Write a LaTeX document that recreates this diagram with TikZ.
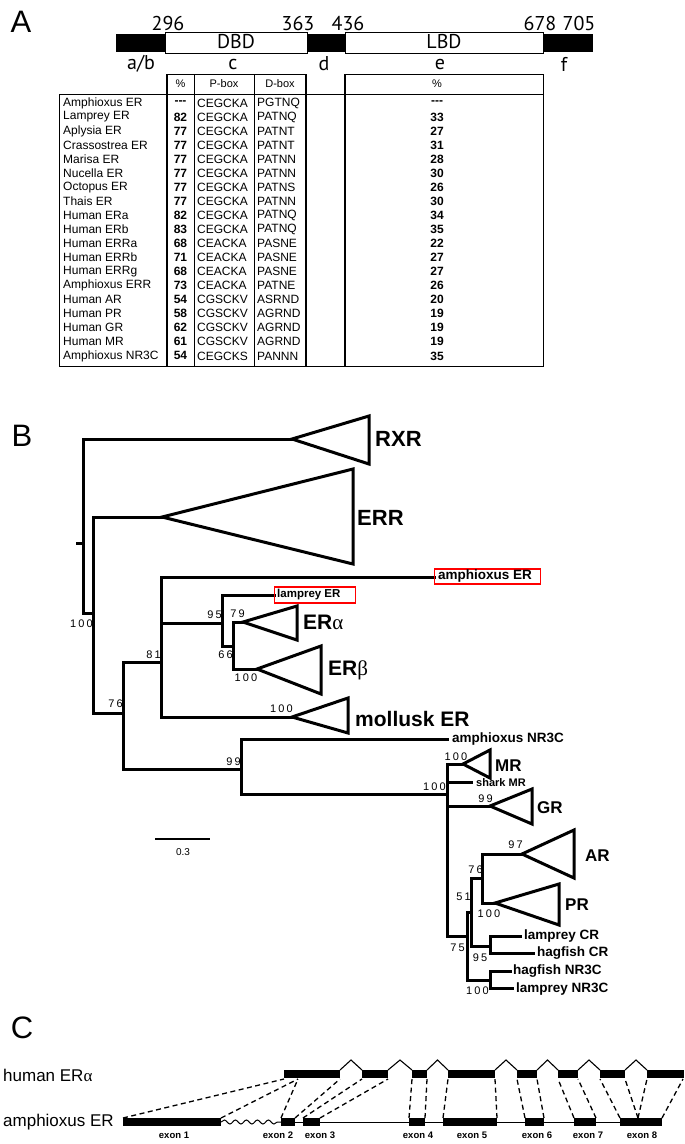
\documentclass[tikz,border=0pt]{standalone}
\usepackage{fontspec}
\setmainfont{Liberation Sans}
\newfontfamily\ptsans{PT Sans}
\newfontfamily\grk{Liberation Serif}
\newfontfamily\bootfont[LetterSpace=20]{Liberation Sans}
\usetikzlibrary{decorations.pathmorphing}
\newcommand\mydsh{{-}{-}{-}}
\begin{document}
\begin{tikzpicture}[x=1pt,y=-1pt,
 panel/.style={font=\fontsize{31}{33}\selectfont, inner sep=0pt},
 dom/.style={font=\ptsans\fontsize{20}{22}\selectfont, inner sep=0pt},
 cell/.style={font=\fontsize{12}{14}\selectfont, inner sep=0pt, anchor=west},
 bcell/.style={font=\bfseries\fontsize{12}{14}\selectfont, inner sep=0pt},
 hcell/.style={font=\fontsize{11}{13}\selectfont, inner sep=0pt},
 tline/.style={line width=0.9pt},
 Tline/.style={line width=2.5pt},
 br/.style={line width=3pt, line cap=rect},
 tri/.style={line width=3pt, line join=miter},
 boot/.style={font=\bootfont\fontsize{11}{12}\selectfont, inner sep=0pt},
 clade/.style={font=\bfseries\fontsize{22}{24}\selectfont, inner sep=0pt, anchor=west},
 sclade/.style={font=\bfseries\fontsize{17}{19}\selectfont, inner sep=0pt, anchor=west},
 taxon/.style={font=\bfseries\fontsize{13.5}{15}\selectfont, inner sep=0pt, anchor=west},
 redbox/.style={draw=red, line width=1.2pt, inner sep=0pt, anchor=west},
 exlbl/.style={font=\bfseries\fontsize{9.5}{11}\selectfont, inner sep=0pt},
 dashln/.style={line width=1.3pt, dash pattern=on 5pt off 3.5pt},
 intr/.style={line width=1.1pt},
 rowlbl/.style={font=\fontsize{17}{19}\selectfont, inner sep=0pt, anchor=west}
]
\useasboundingbox (0,0) rectangle (685,1144);

% ================= Panel A =================
\node[panel] (lblA) at (21,22) {A};
\fill (116,34) rectangle (593,52);
\draw[fill=white, line width=1pt] (165,32) rectangle (307,53);
\draw[fill=white, line width=1pt] (345,32) rectangle (543,53);
\node[dom] (dbd) at (236,42) {DBD};
\node[dom] (lbd) at (444,42) {LBD};
\node[dom] (p296) at (168,23) {296};
\node[dom] (p363) at (298,23) {363};
\node[dom] (p436) at (348,23) {436};
\node[dom] (p678) at (540,23) {678};
\node[dom] (p705) at (579,23) {705};
\node[dom] (rab) at (141,64) {a/b};
\node[dom] (rc) at (233,64) {c};
\node[dom] (rd) at (324,64) {d};
\node[dom] (re) at (440,64) {e};
\node[dom] (rf) at (564,64) {f};

% table
\draw[tline] (59,94) rectangle (543,366);
\draw[tline] (167,74) -- (306,74);
\draw[tline] (345,74) -- (543,74);
\draw[tline] (194,74) -- (194,366);
\draw[tline] (254,74) -- (254,366);
\draw[tline] (543,74) -- (543,366);
\draw[Tline] (167,74) -- (167,366);
\draw[Tline] (306,74) -- (306,366);
\draw[Tline] (345,74) -- (345,366);
\node[hcell] (hpc) at (180.5,84) {\%};
\node[hcell] (hpb) at (224,84) {P-box};
\node[hcell] (hdb) at (280,84) {D-box};
\node[hcell] (hlb) at (437,84) {\%};
\foreach \nm/\pc/\pb/\db/\lb [count=\i from 0] in {
 Amphioxus ER/\mydsh/CEGCKA/PGTNQ/\mydsh,
 Lamprey ER/82/CEGCKA/PATNQ/33,
 Aplysia ER/77/CEGCKA/PATNT/27,
 Crassostrea ER/77/CEGCKA/PATNT/31,
 Marisa ER/77/CEGCKA/PATNN/28,
 Nucella ER/77/CEGCKA/PATNN/30,
 Octopus ER/77/CEGCKA/PATNS/26,
 Thais ER/77/CEGCKA/PATNN/30,
 Human ERa/82/CEGCKA/PATNQ/34,
 Human ERb/83/CEGCKA/PATNQ/35,
 Human ERRa/68/CEACKA/PASNE/22,
 Human ERRb/71/CEACKA/PASNE/27,
 Human ERRg/68/CEACKA/PASNE/27,
 Amphioxus ERR/73/CEACKA/PATNE/26,
 Human AR/54/CGSCKV/ASRND/20,
 Human PR/58/CGSCKV/AGRND/19,
 Human GR/62/CGSCKV/AGRND/19,
 Human MR/61/CGSCKV/AGRND/19,
 Amphioxus NR3C/54/CEGCKS/PANNN/35}
{
 \pgfmathsetmacro\yy{103+14.05*\i}
 \node[cell] (nm\i) at (63,\yy) {\nm};
 \node[bcell] (pc\i) at (180.5,\yy) {\pc};
 \node[cell] (pb\i) at (197,\yy) {\pb};
 \node[cell] (db\i) at (257,\yy) {\db};
 \node[bcell] (lb\i) at (437,\yy) {\lb};
}

% ================= Panel B =================
\node[panel] (lblB) at (22,436) {B};
\coordinate (stubL) at (77,543); \coordinate (stubR) at (83,543);
\draw[br] (stubL) -- (stubR);
% root
\coordinate (rxrA) at (292,439); \coordinate (rootB) at (83,613); \coordinate (xM) at (93,613);
\draw[br] (rxrA) -| (rootB) -- (xM);
\coordinate (rxrT) at (369,416); \coordinate (rxrB) at (369,464);
\draw[tri] (rxrA) -- (rxrT) -- (rxrB) -- cycle;
\node[clade] (rxr) at (375,439) {RXR};
% node X
\coordinate (errA) at (162,517); \coordinate (xB) at (93,713); \coordinate (yM) at (123,713);
\draw[br] (errA) -| (xB) -- (yM);
\coordinate (errT) at (353,469); \coordinate (errB) at (353,564);
\draw[tri] (errA) -- (errT) -- (errB) -- cycle;
\node[clade] (err) at (357,518) {ERR};
% node Y
\coordinate (n81M) at (161,662); \coordinate (yB) at (123,769); \coordinate (n99M) at (241,769);
\draw[br] (n81M) -| (yB) -- (n99M);
% node 81
\coordinate (amphA) at (434,577); \coordinate (n81B) at (161,717); \coordinate (molA) at (292,717);
\draw[br] (amphA) -| (n81B) -- (molA);
\coordinate (n81S) at (161,623); \coordinate (n95M) at (222,623);
\draw[br] (n81S) -- (n95M);
\node[redbox, minimum width=106pt, minimum height=15pt] (amphBox) at (434,576.5) {};
\node[taxon] (amphER) at ([xshift=4pt]amphBox.west) {amphioxus ER};
% node 95
\coordinate (lampA) at (274,595); \coordinate (n95B) at (222,646); \coordinate (n66M) at (233,646);
\draw[br] (lampA) -| (n95B) -- (n66M);
\node[redbox, minimum width=81pt, minimum height=16pt] (lampBox) at (274,595) {};
\node[taxon, font=\bfseries\fontsize{11.5}{13}\selectfont] (lampER) at ([xshift=3pt]lampBox.west) {lamprey ER};
% node 66
\coordinate (eraA) at (243,622); \coordinate (n66B) at (233,669); \coordinate (erbA) at (257,669);
\draw[br] (eraA) -| (n66B) -- (erbA);
\coordinate (eraT) at (297,606); \coordinate (eraB) at (297,640);
\draw[tri] (eraA) -- (eraT) -- (eraB) -- cycle;
\node[clade, font=\bfseries\fontsize{21}{23}\selectfont] (era) at (303,622) {ER{\mdseries\grk α}};
\coordinate (erbT) at (321,646); \coordinate (erbB) at (321,694);
\draw[tri] (erbA) -- (erbT) -- (erbB) -- cycle;
\node[clade, font=\bfseries\fontsize{21}{23}\selectfont] (erb) at (328,670) {ER{\mdseries\grk β}};
% mollusk
\coordinate (molT) at (348,698); \coordinate (molB) at (348,733);
\draw[tri] (molA) -- (molT) -- (molB) -- cycle;
\node[clade, font=\bfseries\fontsize{21}{23}\selectfont] (mol) at (355,719) {mollusk ER};
% node 99
\coordinate (nr3cA) at (447,739); \coordinate (n99B) at (241,794); \coordinate (srM) at (447,794);
\draw[br] (nr3cA) -| (n99B) -- (srM);
\node[taxon] (anr3c) at (452,739) {amphioxus NR3C};
% SR node
\coordinate (mrA) at (463,764); \coordinate (srB) at (447,936); \coordinate (n75M) at (467,936);
\draw[br] (mrA) -| (srB) -- (n75M);
\coordinate (srS1) at (447,782); \coordinate (sharkA) at (471,782);
\draw[br] (srS1) -- (sharkA);
\node[taxon, font=\bfseries\fontsize{11}{13}\selectfont] (shark) at (476,783) {shark MR};
\coordinate (srS2) at (447,806); \coordinate (grA) at (490,806);
\draw[br] (srS2) -- (grA);
\coordinate (mrT) at (490,750); \coordinate (mrB) at (490,778);
\draw[tri] (mrA) -- (mrT) -- (mrB) -- cycle;
\node[sclade] (mr) at (495,766) {MR};
\coordinate (grT) at (532,789); \coordinate (grB) at (532,824);
\draw[tri] (grA) -- (grT) -- (grB) -- cycle;
\node[sclade] (gr) at (537,808) {GR};
% node 75
\coordinate (n51M) at (471,912); \coordinate (n75B) at (467,980); \coordinate (nrM) at (490,980);
\draw[br] (n51M) -| (n75B) -- (nrM);
% node 51
\coordinate (arprM) at (482,878); \coordinate (n51B) at (471,946); \coordinate (crM) at (490,946);
\draw[br] (arprM) -| (n51B) -- (crM);
% AR/PR
\coordinate (arA) at (522,854); \coordinate (arprB) at (482,903); \coordinate (prA) at (495,903);
\draw[br] (arA) -| (arprB) -- (prA);
\coordinate (arT) at (574,830); \coordinate (arB) at (574,878);
\draw[tri] (arA) -- (arT) -- (arB) -- cycle;
\node[sclade] (ar) at (585,856) {AR};
\coordinate (prT) at (559,884); \coordinate (prB) at (559,925);
\draw[tri] (prA) -- (prT) -- (prB) -- cycle;
\node[sclade] (pr) at (565,905) {PR};
% CR
\coordinate (lcrA) at (520,936); \coordinate (crB) at (490,953); \coordinate (hcrA) at (533,953);
\draw[br] (lcrA) -| (crB) -- (hcrA);
\node[taxon] (lcr) at (524,936) {lamprey CR};
\node[taxon] (hcr) at (537,953) {hagfish CR};
% NR3C
\coordinate (hnrA) at (510,971); \coordinate (nrB) at (490,988); \coordinate (lnrA) at (512,988);
\draw[br] (hnrA) -| (nrB) -- (lnrA);
\node[taxon] (hnr) at (513,971) {hagfish NR3C};
\node[taxon] (lnr) at (516,989) {lamprey NR3C};
% bootstrap values
\node[boot, anchor=east] (b1) at (93,624) {100};
\node[boot, anchor=east] (b2) at (123,704) {76};
\node[boot, anchor=east] (b3) at (161,655) {81};
\node[boot, anchor=east] (b4) at (222,615) {95};
\node[boot, anchor=east] (b5) at (233,655) {66};
\node[boot, anchor=east] (b6) at (245,614) {79};
\node[boot] (b7) at (246,678) {100};
\node[boot, anchor=east] (b8) at (293,709) {100};
\node[boot, anchor=east] (b9) at (241,762) {99};
\node[boot, anchor=east] (b10) at (446,787) {100};
\node[boot] (b11) at (456,757) {100};
\node[boot, anchor=east] (b12) at (493,799) {99};
\node[boot, anchor=east] (b13) at (483,870) {76};
\node[boot, anchor=east] (b14) at (523,845) {97};
\node[boot, anchor=east] (b15) at (471,897) {51};
\node[boot] (b16) at (489,914) {100};
\node[boot, anchor=east] (b17) at (465,948) {75};
\node[boot] (b18) at (480,958) {95};
\node[boot, anchor=east] (b19) at (489,991) {100};
% scale bar
\coordinate (sbL) at (155,839); \coordinate (sbR) at (210,839);
\draw[line width=2.2pt] (sbL) -- (sbR);
\node[font=\fontsize{10}{12}\selectfont, inner sep=0pt] (sbT) at (183,852) {0.3};

% ================= Panel C =================
\node[panel] (lblC) at (22,1028) {C};
\node[rowlbl] (hum) at (3,1075) {human ER{\grk α}};
\node[rowlbl] (amp) at (3,1122) {amphioxus ER};
% amphioxus backbone
\coordinate (wavL) at (221,1122); \coordinate (wavR) at (281,1122); \coordinate (bbR) at (662,1122);
\draw[line width=1pt, decorate, decoration={snake, amplitude=2pt, segment length=11pt}] (wavL) -- (wavR);
\draw[line width=1pt] (wavR) -- (bbR);
% amphioxus exons
\foreach \a/\b [count=\k] in {123/221, 281/295, 303/320, 409/425, 443/497, 525/544, 574/596, 620/662}
 { \fill (\a,1118) rectangle (\b,1126); }
% human exons
\foreach \a/\b [count=\k] in {284/340, 362/388, 412/427, 448/495, 517/537, 558/578, 600/625, 647/684}
 { \fill (\a,1070) rectangle (\b,1078); }
% introns (chevrons)
\foreach \a/\b [count=\k] in {340/362, 388/412, 427/448, 495/517, 537/558, 578/600, 625/647}
 { \coordinate (iL\k) at (\a,1070); \coordinate (iR\k) at (\b,1070);
   \coordinate (iP\k) at ({(\a+\b)/2},1060);
   \draw[intr, line join=miter] (iL\k) -- (iP\k) -- (iR\k); }
% dashed correspondences
\foreach \a/\h [count=\k] in {123/284, 221/298, 281/298, 295/340, 303/362, 320/388, 409/412, 425/427, 443/448, 497/495, 525/517, 544/537, 574/558, 596/578, 620/600, 638/625, 638/647, 662/683}
 { \coordinate (am\k) at (\a,1118); \coordinate (hu\k) at (\h,1079);
   \draw[dashln] (am\k) -- (hu\k); }
% exon labels
\node[exlbl] (ex1) at (174,1135) {exon 1};
\node[exlbl] (ex2) at (278,1135) {exon 2};
\node[exlbl] (ex3) at (320,1135) {exon 3};
\node[exlbl] (ex4) at (418,1135) {exon 4};
\node[exlbl] (ex5) at (472,1135) {exon 5};
\node[exlbl] (ex6) at (537,1135) {exon 6};
\node[exlbl] (ex7) at (588,1135) {exon 7};
\node[exlbl] (ex8) at (642,1135) {exon 8};
\end{tikzpicture}
\end{document}
